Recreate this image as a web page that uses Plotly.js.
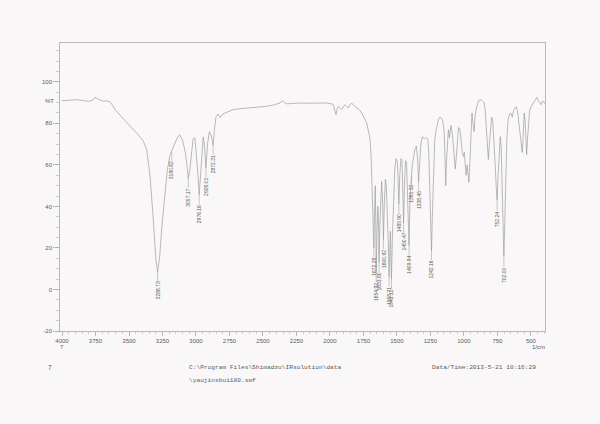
<!DOCTYPE html>
<html>
<head>
<meta charset="utf-8">
<script src="https://cdn.plot.ly/plotly-3.0.1.min.js"></script>
<style>html,body{margin:0;padding:0;background:#faf7f9;}#chart{width:600px;height:424px;}</style>
</head>
<body>
<div id="chart"></div>
<script>
const wavenumber = [4000,3950,3890,3840,3804,3770,3754,3740,3729,3710,3692,3665,3642,3620,3604,3560,3517,3480,3443,3393,3368,3356,3343,3320,3300,3286.73,3272,3255,3235,3215,3195,3180.62,3160,3140,3122,3100,3080,3068,3057.17,3045,3035,3022,3008,2995,2985,2976.16,2966,2956,2946,2936,2926.01,2914,2900,2886,2872.31,2862,2851,2835,2821,2800,2783,2724,2650,2597,2530,2472,2420,2373,2355,2340,2323,2280,2224,2160,2099,2060,2025,1990,1975,1962,1955,1946,1938,1925,1913,1900,1888,1875,1863,1850,1838,1820,1801,1780,1763,1745,1726,1712,1701,1692,1684,1677,1672.28,1667,1662,1658,1654.92,1649,1643,1638,1633.80,1627,1620,1614,1607,1600.92,1594,1586,1580,1570,1564,1558.71,1554,1549,1545,1541.12,1534,1526,1516,1506,1496,1491,1485.90,1479,1470,1462,1456,1450.47,1444,1436,1428,1420,1414,1409.94,1403,1396,1391.32,1386,1376,1366,1355,1346,1338.45,1331,1322,1310,1296,1282,1270,1262,1255,1248,1242.16,1236,1228,1218,1210,1202,1190,1180,1168,1158,1148,1140,1136,1130,1122,1116,1108,1097,1085,1075,1065,1058,1050,1040,1030,1020,1012,1004,997,990,984,976,970,963,955,947,940,932,924,916,905,890,875,865,850,842,832,824,818,810,800,793,785,775,765,758,752.24,745,738,729,722,715,708,702.00,696,688,680,670,660,650,640,630,620,610,600,590,580,572,565,558,550,544,538,532,526,518,510,500,490,478,465,455,445,435,425,415,405,398];
const transmittance = [90.9,91.2,91.4,91.0,90.6,91.2,92.6,92.0,91.7,91.0,90.6,90.8,90.3,88.5,86.6,83.5,80.2,77.8,75.4,71.4,67.4,61.0,54.6,35,15,8.5,15,30,45,57,64.5,66.5,70,73,74.5,72,66,60,53.5,58,66,72.5,73,64,55,45.5,56,68,73.5,69,58.5,70,76,74,69.5,77,83,84.5,82.7,84.5,85,86.6,87.2,87.5,87.8,88.2,88.9,89.8,91,90,89.4,89.6,89.8,89.7,89.8,90,89.8,89.4,89,86,84.2,87,88.2,87.5,86.6,88,89,88,87.4,89,89.8,88.5,87.4,86.5,85,83,80.2,76,72.2,63,45,30,20,38,50,32,8,28,40,33,13,32,48,52,42,24,42,53,50,35,22,6,22,28,16,5,25,45,58,63,61,52,41,55,63,62,48,32,50,62,61,45,32,21,42,54,55,60,65,67.4,69,63,52,60,70,73.6,72.5,73.2,72.5,65,50,30,18.5,35,58,72,76,78.4,82,83,82.5,81,76,60,50,62,74,77,73,79,74,66,58,63,72,78,77,70,66,64,66,60,55,60,57,51.6,62,78,85,80,76,84,88,91,91.4,91,90,87,76,66,62.6,70,80,83,81,72,58,48,43,55,66,73.6,68,52,30,16,30,52,72,82,84.5,85,83,86,87,88,86,80,72,67,66,74,85,82,72,65,72,82,86,88,89,90.5,91.5,92.5,91,90,89,90.5,90.5,89.5];

const peakWavenumbers = [3286.73,3180.62,3057.17,2976.16,2926.01,2872.31,1672.28,1654.92,1633.80,1600.92,1558.71,1541.12,1485.90,1450.47,1409.94,1391.32,1338.45,1242.16,752.24,702.00];
const peakLabels = ["3286.73","3180.62","3057.17","2976.16","2926.01","2872.31","1672.28","1654.92","1633.80","1600.92","1558.71","1541.12","1485.90","1450.47","1409.94","1391.32","1338.45","1242.16","752.24","702.00"];

const xTickVals = [4000,3750,3500,3250,3000,2750,2500,2250,2000,1750,1500,1250,1000,750,500];
const xTickText = ["4000","3750","3500","3250","3000","2750","2500","2250","2000","1750","1500","1250","1000","750","500"];
const yTickVals = [100,80,60,40,20,0,-20];
const yTickText = ["100","80","60","40","20","0","-20"];

const lineColor = '#9c9c9c';
const textColor = '#5a5a5a';
const monoFont = {family:'Liberation Mono, DejaVu Sans Mono, monospace', size:6.2, color:textColor};
const sansFont = 'Liberation Sans, Arial, sans-serif';

const annotations = [];
peakWavenumbers.forEach(function(w, i){
  const idx = wavenumber.indexOf(w);
  const t = transmittance[idx];
  annotations.push({
    x: w, y: t, xref:'x', yref:'y',
    text: peakLabels[i], textangle: -90,
    showarrow: true, arrowhead: 0, arrowwidth: 0.6, arrowcolor: '#a5a5a5',
    ax: 0, ay: 19, borderpad: 0,
    font: {family:sansFont, size:5, color:textColor}
  });
});
annotations.push({x:-0.035, y:91, xref:'paper', yref:'y', text:'%T', showarrow:false,
  font:{family:sansFont, size:6, color:textColor}});
annotations.push({x:4000, y:-0.072, xref:'x', yref:'paper', text:'7', showarrow:false,
  font:{family:sansFont, size:6, color:textColor}});
annotations.push({x:440, y:-0.074, xref:'x', yref:'paper', text:'1/cm', showarrow:false,
  font:{family:sansFont, size:6, color:textColor}});
annotations.push({x:-0.029, y:-0.146, xref:'paper', yref:'paper', text:'7', showarrow:false,
  font:{family:sansFont, size:6.5, color:textColor}});
annotations.push({x:0.262, y:-0.146, xref:'paper', yref:'paper', xanchor:'left', text:'C:\\Program Files\\Shimadzu\\IRsolution\\data', showarrow:false, font:monoFont});
annotations.push({x:0.262, y:-0.191, xref:'paper', yref:'paper', xanchor:'left', text:'\\yaojinsbui180.smf', showarrow:false, font:monoFont});
annotations.push({x:0.763, y:-0.146, xref:'paper', yref:'paper', xanchor:'left', text:'Data/Time:2013-5-21 10:16:29', showarrow:false, font:monoFont});

const trace = {
  x: wavenumber, y: transmittance, type:'scatter', mode:'lines',
  line:{color:lineColor, width:0.7}, hoverinfo:'skip'
};

const tickFont = {family:sansFont, size:6, color:textColor};
const layout = {
  width:600, height:424,
  margin:{l:60, r:55, t:43, b:93, pad:0},
  paper_bgcolor:'#faf7f9', plot_bgcolor:'#faf7f9',
  showlegend:false,
  xaxis:{range:[4015,395], tickmode:'array', tickvals:xTickVals, ticktext:xTickText,
    ticks:'outside', ticklen:4, tickwidth:0.7, tickcolor:'#a5a5a5',
    showline:true, linecolor:'#a8a8a8', linewidth:0.8, mirror:true,
    showgrid:false, zeroline:false, tickfont:tickFont,
    minor:{ticks:'outside', ticklen:2, tickwidth:0.6, tickcolor:'#b0b0b0', tickmode:'linear', tick0:0, dtick:50, showgrid:false}},
  yaxis:{range:[-20,118.7], tickmode:'array', tickvals:yTickVals, ticktext:yTickText,
    ticks:'outside', ticklen:6, tickwidth:0.7, tickcolor:'#a5a5a5',
    showline:true, linecolor:'#a8a8a8', linewidth:0.8, mirror:true,
    showgrid:false, zeroline:false, tickfont:tickFont,
    minor:{ticks:'outside', ticklen:3, tickwidth:0.6, tickcolor:'#b0b0b0', tickmode:'linear', tick0:0, dtick:5, showgrid:false}},
  annotations: annotations
};

Plotly.newPlot('chart', [trace], layout, {staticPlot:true, displayModeBar:false});
</script>
</body>
</html>
